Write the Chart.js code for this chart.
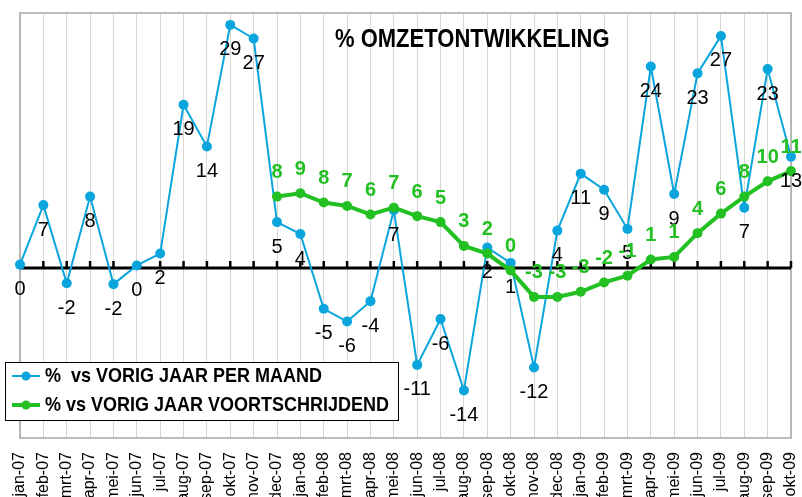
<!DOCTYPE html>
<html lang="nl">
<head>
    <meta charset="UTF-8">
    <title>% Omzetontwikkeling</title>
    <script src="https://cdn.jsdelivr.net/npm/chart.js"></script>
    <style>
        body { margin: 0; padding: 0; background: #fff; }
        #wrap { width: 802px; height: 497px; }
    </style>
</head>
<body>
    <div id="wrap"><canvas id="omzetChart" width="802" height="497"></canvas></div>

    <script>
        // Months on the x axis
        const months = [
            'jan-07', 'feb-07', 'mrt-07', 'apr-07', 'mei-07', 'jun-07', 'jul-07', 'aug-07', 'sep-07', 'okt-07', 'nov-07', 'dec-07',
            'jan-08', 'feb-08', 'mrt-08', 'apr-08', 'mei-08', 'jun-08', 'jul-08', 'aug-08', 'sep-08', 'okt-08', 'nov-08', 'dec-08',
            'jan-09', 'feb-09', 'mrt-09', 'apr-09', 'mei-09', 'jun-09', 'jul-09', 'aug-09', 'sep-09', 'okt-09'
        ];

        // % vs vorig jaar per maand
        const perMaand = [
            0.4, 7.4, -1.8, 8.4, -1.9, 0.3, 1.7, 19.2, 14.3, 28.6, 27.0, 5.4,
            4.0, -4.8, -6.3, -3.9, 6.8, -11.4, -6.0, -14.4, 2.4, 0.6, -11.7, 4.4,
            11.1, 9.2, 4.6, 23.7, 8.7, 22.9, 27.3, 7.1, 23.4, 13.1
        ];

        // % vs vorig jaar voortschrijdend (starts dec-07)
        const voortschrijdend = [
            null, null, null, null, null, null, null, null, null, null, null, 8.4,
            8.8, 7.7, 7.3, 6.3, 7.1, 6.1, 5.4, 2.6, 1.7, -0.3, -3.4, -3.4,
            -2.8, -1.7, -0.9, 1.0, 1.3, 4.1, 6.4, 8.4, 10.2, 11.4
        ];

        const seriesNames = ['%  vs VORIG JAAR PER MAAND', '% vs VORIG JAAR VOORTSCHRIJDEND'];
        const titleText = '% OMZETONTWIKKELING';

        const BLUE = '#0aa5dc';
        const GREEN = '#22c022';

        // draws frame, zero axis, title, value labels and the legend box
        const decorations = {
            id: 'decorations',
            beforeDatasetsDraw(chart) {
                const ctx = chart.ctx;
                const a = chart.chartArea;
                const x = chart.scales.x;
                const y0 = chart.scales.y.getPixelForValue(0);

                ctx.save();
                // plot frame
                ctx.strokeStyle = '#a6a6a6';
                ctx.lineWidth = 1.5;
                ctx.strokeRect(a.left, a.top, a.right - a.left, a.bottom - a.top);

                // zero line with tick marks
                ctx.strokeStyle = '#000';
                ctx.lineWidth = 3;
                ctx.beginPath();
                ctx.moveTo(a.left, y0);
                ctx.lineTo(a.right, y0);
                ctx.stroke();
                ctx.lineWidth = 2.5;
                for (let i = 1; i < months.length; i++) {
                    const px = x.getPixelForValue(i);
                    ctx.beginPath();
                    ctx.moveTo(px, y0);
                    ctx.lineTo(px, y0 - 7);
                    ctx.stroke();
                }
                ctx.restore();
            },
            afterDatasetsDraw(chart) {
                const ctx = chart.ctx;
                ctx.save();

                // legend box
                ctx.fillStyle = '#fff';
                ctx.fillRect(5, 362, 393, 58);
                ctx.strokeStyle = '#000';
                ctx.lineWidth = 1;
                ctx.strokeRect(5.5, 362.5, 393, 58);

                const rows = [376, 405];
                chart.data.datasets.forEach((ds, di) => {
                    const ry = rows[di];
                    ctx.strokeStyle = ds.borderColor;
                    ctx.lineWidth = ds.borderWidth;
                    ctx.beginPath();
                    ctx.moveTo(12, ry);
                    ctx.lineTo(40, ry);
                    ctx.stroke();
                    ctx.fillStyle = ds.borderColor;
                    ctx.beginPath();
                    ctx.arc(26, ry, 4.5, 0, Math.PI * 2);
                    ctx.fill();

                    ctx.save();
                    ctx.translate(45, ry);
                    ctx.scale(1, 1.15);
                    ctx.font = 'bold 18px "Liberation Sans", Arial, sans-serif';
                    ctx.fillStyle = '#000';
                    ctx.textAlign = 'left';
                    ctx.textBaseline = 'middle';
                    ctx.fillText(ds.label, 0, 0);
                    ctx.restore();
                });

                // value labels
                ctx.textAlign = 'center';
                ctx.textBaseline = 'middle';
                chart.data.datasets.forEach((ds, di) => {
                    const meta = chart.getDatasetMeta(di);
                    meta.data.forEach((pt, i) => {
                        const v = ds.data[i];
                        if (v === null) return;
                        const txt = String(Math.round(v) || 0);
                        if (di === 0) {
                            ctx.font = '20px "Liberation Sans", Arial, sans-serif';
                            ctx.fillStyle = '#000';
                            ctx.fillText(txt, pt.x, pt.y + 25);
                        } else {
                            ctx.font = 'bold 20px "Liberation Sans", Arial, sans-serif';
                            ctx.fillStyle = GREEN;
                            ctx.fillText(txt, pt.x, pt.y - 24);
                        }
                    });
                });

                // title
                ctx.save();
                ctx.translate(335, 40);
                ctx.scale(1, 1.2);
                ctx.font = 'bold 22px "Liberation Sans", Arial, sans-serif';
                ctx.fillStyle = '#000';
                ctx.textAlign = 'left';
                ctx.fillText(titleText, 0, 0);
                ctx.restore();

                ctx.restore();
            }
        };

        const ctx = document.getElementById('omzetChart').getContext('2d');
        new Chart(ctx, {
            type: 'line',
            data: {
                labels: months,
                datasets: [
                    {
                        label: seriesNames[0],
                        data: perMaand,
                        borderColor: BLUE,
                        backgroundColor: BLUE,
                        borderWidth: 2,
                        pointRadius: 5,
                        pointBorderWidth: 0,
                        tension: 0,
                        order: 1
                    },
                    {
                        label: seriesNames[1],
                        data: voortschrijdend,
                        borderColor: GREEN,
                        backgroundColor: GREEN,
                        borderWidth: 4,
                        pointRadius: 5,
                        pointBorderWidth: 0,
                        tension: 0,
                        order: 0
                    }
                ]
            },
            options: {
                responsive: false,
                animation: false,
                layout: { padding: { left: 20, right: 11, top: 13, bottom: 0 } },
                plugins: {
                    legend: { display: false },
                    title: { display: false },
                    tooltip: { enabled: false }
                },
                scales: {
                    x: {
                        offset: false,
                        grid: { color: '#d6d6d6', lineWidth: 1, drawTicks: false },
                        border: { display: false },
                        ticks: {
                            autoSkip: false,
                            minRotation: 90,
                            maxRotation: 90,
                            padding: 14,
                            color: '#000',
                            font: { family: '"Liberation Sans", Arial, sans-serif', size: 16 }
                        },
                        afterFit(scale) {
                            scale.height = 59;
                            scale.paddingLeft = 0;
                            scale.paddingRight = 0;
                        }
                    },
                    y: {
                        display: false,
                        min: -20,
                        max: 30
                    }
                }
            },
            plugins: [decorations]
        });
    </script>
</body>
</html>
